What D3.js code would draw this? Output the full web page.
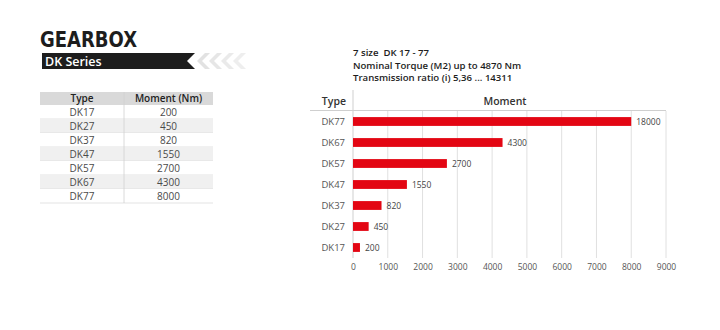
<!DOCTYPE html>
<html>
<head>
<meta charset="utf-8">
<script src="https://cdn.jsdelivr.net/npm/d3@7"></script>
<style>
  html, body { margin: 0; padding: 0; background: #fff; }
  svg { display: block; font-family: "Open Sans", "DejaVu Sans", sans-serif; }
</style>
</head>
<body>
<svg id="chart" width="720" height="330"></svg>
<script>
// ---- data ----
const types = ["DK17", "DK27", "DK37", "DK47", "DK57", "DK67", "DK77"];
const tableMoments = ["200", "450", "820", "1550", "2700", "4300", "8000"];
const barValues = [200, 450, 820, 1550, 2700, 4300, 8000];
const barLabels = ["200", "450", "820", "1550", "2700", "4300", "18000"];
const xTicks = [0, 1000, 2000, 3000, 4000, 5000, 6000, 7000, 8000, 9000];
const infoLines = ["7 size  DK 17 - 77", "Nominal Torque (M2) up to 4870 Nm", "Transmission ratio (i) 5,36 ... 14311"];

const svg = d3.select("#chart");
const red = "#e30613";

// ---- title & banner ----
svg.append("text").attr("x", 40).attr("y", 47)
  .attr("font-family", "'DejaVu Sans', sans-serif")
  .attr("font-size", 22).attr("font-weight", 900).attr("fill", "#1d1d1d")
  .attr("textLength", 97).attr("lengthAdjust", "spacingAndGlyphs")
  .text("GEARBOX");

svg.append("path")
  .attr("d", "M42,53 L195,53 L187,61 L195,69 L42,69 Z")
  .attr("fill", "#1d1d1d");
svg.append("text").attr("x", 45).attr("y", 65.5)
  .attr("font-size", 12.5).attr("font-weight", 600).attr("fill", "#fff")
  .text("DK Series");

const chevX = [197, 209, 221, 233];
const chevFill = ["#e2e2e2", "#e6e6e6", "#eaeaea", "#eeeeee"];
chevX.forEach((cx, i) => {
  svg.append("path")
    .attr("d", `M${cx + 8},53 L${cx + 13},53 L${cx + 5},61 L${cx + 13},69 L${cx + 8},69 L${cx},61 Z`)
    .attr("fill", chevFill[i]);
});

// ---- table ----
const tX0 = 40, tX1 = 213, tDiv = 124, tTop = 92, hdrH = 13, rowH = 14;
const tg = svg.append("g");
tg.append("rect").attr("x", tX0).attr("y", tTop).attr("width", tX1 - tX0).attr("height", hdrH).attr("fill", "#d9d9d9");
tg.append("text").attr("x", (tX0 + tDiv) / 2).attr("y", tTop + 10).attr("text-anchor", "middle")
  .attr("font-size", 10).attr("font-weight", 600).attr("fill", "#222").text("Type");
tg.append("text").attr("x", (tDiv + tX1) / 2).attr("y", tTop + 10).attr("text-anchor", "middle")
  .attr("font-size", 10).attr("font-weight", 600).attr("fill", "#222").text("Moment (Nm)");

types.forEach((t, i) => {
  const y = tTop + hdrH + i * rowH;
  tg.append("rect").attr("x", tX0).attr("y", y).attr("width", tX1 - tX0).attr("height", rowH)
    .attr("fill", i % 2 === 1 ? "#f0f0f0" : "#fff");
  tg.append("line").attr("x1", tX0).attr("x2", tX1).attr("y1", y + rowH).attr("y2", y + rowH)
    .attr("stroke", "#dcdcdc").attr("stroke-width", 0.8);
  tg.append("text").attr("x", (tX0 + tDiv) / 2).attr("y", y + 10.5).attr("text-anchor", "middle")
    .attr("font-size", 10).attr("fill", "#4a4a4a").text(t);
  tg.append("text").attr("x", (tDiv + tX1) / 2).attr("y", y + 10.5).attr("text-anchor", "middle")
    .attr("font-size", 10).attr("fill", "#4a4a4a").text(tableMoments[i]);
});
tg.append("line").attr("x1", tDiv).attr("x2", tDiv).attr("y1", tTop).attr("y2", tTop + hdrH + rowH * types.length)
  .attr("stroke", "#d0d0d0").attr("stroke-width", 0.8);

// ---- chart info ----
infoLines.forEach((l, i) => {
  svg.append("text").attr("x", 353).attr("y", 56 + i * 12.5)
    .attr("font-size", 9.6).attr("font-weight", 600).attr("fill", "#1d1d1d")
    .style("white-space", "pre").text(l);
});

// ---- bar chart ----
const x = d3.scaleLinear().domain([0, 9000]).range([353, 666]);
const order = types.slice().reverse();
const y = d3.scaleBand().domain(order).range([111, 258]).paddingInner(0.58).paddingOuter(0.29);

// header
svg.append("line").attr("x1", 310).attr("x2", 666).attr("y1", 110.5).attr("y2", 110.5).attr("stroke", "#cfcfcf");
svg.append("text").attr("x", 346).attr("y", 105).attr("text-anchor", "end")
  .attr("font-size", 10.5).attr("font-weight", 600).attr("fill", "#333").text("Type");
svg.append("text").attr("x", 505).attr("y", 105).attr("text-anchor", "middle")
  .attr("font-size", 10.5).attr("font-weight", 600).attr("fill", "#333").text("Moment");

// grid
svg.append("g").selectAll("line").data(xTicks.slice(1)).join("line")
  .attr("x1", d => x(d)).attr("x2", d => x(d)).attr("y1", 111).attr("y2", 258)
  .attr("stroke", "#e0e0e0");
svg.append("line").attr("x1", x(0)).attr("x2", x(0)).attr("y1", 90).attr("y2", 258).attr("stroke", "#cfcfcf");

// x axis
const xAxis = d3.axisBottom(x).tickValues(xTicks).tickSize(0).tickPadding(6).tickFormat(d3.format("d"));
const gx = svg.append("g").attr("transform", "translate(0,258)").call(xAxis);
gx.select(".domain").remove();
gx.selectAll("text").attr("font-size", 8.5).attr("fill", "#555").attr("font-family", "'Open Sans', sans-serif");

// y axis
const yAxis = d3.axisLeft(y).tickSize(0).tickPadding(8);
const gy = svg.append("g").attr("transform", "translate(353,0)").call(yAxis);
gy.select(".domain").remove();
gy.selectAll("text").attr("font-size", 9.5).attr("fill", "#555").attr("font-family", "'Open Sans', sans-serif");

// bars
const data = types.map((t, i) => ({ t, v: barValues[i], l: barLabels[i] }));
svg.append("g").selectAll("rect").data(data).join("rect")
  .attr("x", x(0)).attr("y", d => y(d.t)).attr("width", d => x(d.v) - x(0)).attr("height", y.bandwidth())
  .attr("fill", red);
svg.append("g").selectAll("text").data(data).join("text")
  .attr("x", d => x(d.v) + 5).attr("y", d => y(d.t) + y.bandwidth() / 2 + 3)
  .attr("font-size", 8.5).attr("fill", "#444").text(d => d.l);
</script>
</body>
</html>
